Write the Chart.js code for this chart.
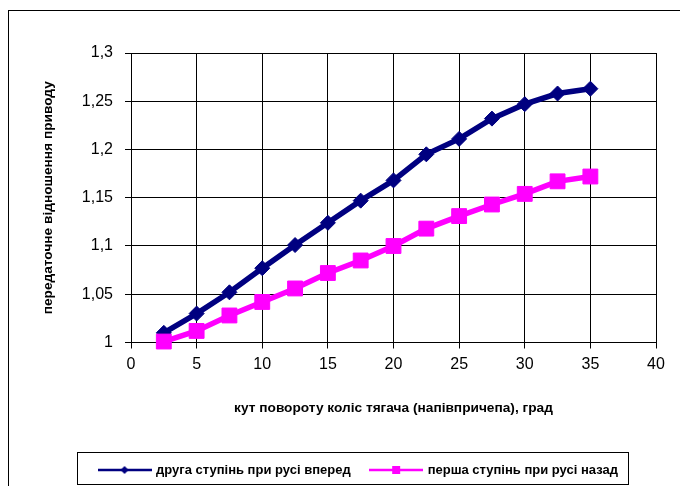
<!DOCTYPE html>
<html>
<head>
<meta charset="utf-8">
<script src="https://cdn.jsdelivr.net/npm/chart.js@4/dist/chart.umd.min.js"></script>
<style>
html,body{margin:0;padding:0;background:#fff;}
#wrap{width:680px;height:486px;}
</style>
</head>
<body>
<div id="wrap"><canvas id="c" width="680" height="486"></canvas></div>
<script>
const angles = [2.5, 5, 7.5, 10, 12.5, 15, 17.5, 20, 22.5, 25, 27.5, 30, 32.5, 35];
const forwardSecond = [1.010, 1.030, 1.052, 1.077, 1.101, 1.124, 1.147, 1.168, 1.195, 1.211, 1.232, 1.247, 1.258, 1.263];
const reverseFirst = [1.001, 1.012, 1.028, 1.042, 1.056, 1.072, 1.085, 1.100, 1.118, 1.131, 1.143, 1.154, 1.167, 1.172];
const seriesNames = ['друга ступінь при русі вперед', 'перша ступінь при русі назад'];
const xTickLabels = ['0', '5', '10', '15', '20', '25', '30', '35', '40'];
const yTickLabels = ['1', '1,05', '1,1', '1,15', '1,2', '1,25', '1,3'];
const xTitle = 'кут повороту коліс тягача (напівпричепа), град';
const yTitle = 'передаточне відношення приводу';

const NAVY = '#000080', MAGENTA = '#FF00FF';
const FONT = '"Liberation Sans", Arial, sans-serif';

function legendIcon(color, shape) {
  const cv = document.createElement('canvas');
  cv.width = 54; cv.height = 14;
  const g = cv.getContext('2d');
  g.strokeStyle = color; g.fillStyle = color;
  g.lineWidth = 2.5;
  g.beginPath(); g.moveTo(0, 7); g.lineTo(54, 7); g.stroke();
  if (shape === 'diamond') {
    g.beginPath(); g.moveTo(27, 3); g.lineTo(31, 7); g.lineTo(27, 11); g.lineTo(23, 7); g.closePath(); g.fill();
  } else {
    g.fillRect(23, 3, 8, 8);
  }
  return cv;
}
const icons = [legendIcon(NAVY, 'diamond'), legendIcon(MAGENTA, 'square')];

const framePlugin = {
  id: 'frame',
  beforeDraw(chart) {
    const ctx = chart.ctx;
    ctx.save(); ctx.fillStyle = '#fff'; ctx.fillRect(0, 0, chart.width, chart.height); ctx.restore();
  },
  afterLayout(chart) {
    const lg = chart.legend;
    if (lg) {
      lg.left = 61.5; lg.right = 656;
      lg.top = 443; lg.bottom = 486.5;
    }
  },
  afterDraw(chart) {
    const ctx = chart.ctx;
    ctx.save();
    ctx.strokeStyle = '#000'; ctx.lineWidth = 1;
    ctx.strokeRect(8.5, 10.5, 720, 520);
    ctx.strokeRect(77.5, 452.5, 551, 32);
    ctx.restore();
  }
};

new Chart(document.getElementById('c'), {
  type: 'line',
  data: {
    datasets: [
      {
        label: seriesNames[0],
        data: angles.map((a, i) => ({x: a, y: forwardSecond[i]})),
        borderColor: NAVY, backgroundColor: NAVY,
        borderWidth: 5.5, tension: 0,
        pointStyle: 'rectRot', pointRadius: 7.5,
        pointBackgroundColor: NAVY, pointBorderColor: NAVY, pointBorderWidth: 1,
        clip: false, order: 2
      },
      {
        label: seriesNames[1],
        data: angles.map((a, i) => ({x: a, y: reverseFirst[i]})),
        borderColor: MAGENTA, backgroundColor: MAGENTA,
        borderWidth: 5.5, tension: 0,
        pointStyle: 'rect', pointRadius: 10.5,
        pointBackgroundColor: MAGENTA, pointBorderColor: MAGENTA, pointBorderWidth: 1,
        clip: false, order: 1
      }
    ]
  },
  options: {
    responsive: false,
    animation: false,
    events: [],
    layout: { padding: { left: 0, top: 53, right: 24, bottom: 0 } },
    plugins: {
      tooltip: { enabled: false },
      legend: {
        display: true,
        position: 'bottom',
        labels: {
          usePointStyle: true,
          pointStyleWidth: 50,
          padding: 20.5,
          color: '#000',
          font: { family: FONT, size: 13, weight: 'bold' },
          generateLabels() {
            return seriesNames.map((n, i) => ({
              text: n, pointStyle: icons[i], fillStyle: 'rgba(0,0,0,0)',
              strokeStyle: 'rgba(0,0,0,0)', lineWidth: 0, fontColor: '#000',
              hidden: false, datasetIndex: i
            }));
          }
        }
      }
    },
    scales: {
      x: {
        type: 'linear', min: 0, max: 40,
        afterFit(s) { s.height = 100; },
        ticks: {
          stepSize: 5, padding: 6, color: '#000',
          font: { family: FONT, size: 16 },
          maxRotation: 0,
          callback: (v, i) => xTickLabels[i]
        },
        grid: { color: '#000', lineWidth: 1, tickLength: 6, drawTicks: true },
        border: { color: '#000', width: 1 },
        title: {
          display: true, text: xTitle, color: '#000',
          font: { family: FONT, size: 13.7, weight: 'bold' },
          padding: { top: 0, bottom: 26.3 }
        }
      },
      y: {
        type: 'linear', min: 1, max: 1.3,
        afterFit(s) { s.width = 131; },
        ticks: {
          stepSize: 0.05, padding: 12, color: '#000',
          font: { family: FONT, size: 16 },
          callback: (v, i) => yTickLabels[i]
        },
        grid: { color: '#000', lineWidth: 1, tickLength: 6, drawTicks: true },
        border: { color: '#000', width: 1 },
        title: {
          display: true, text: yTitle, color: '#000',
          font: { family: FONT, size: 13.7, weight: 'bold' },
          padding: { top: 39.8, bottom: 0 }
        }
      }
    }
  },
  plugins: [framePlugin]
});
</script>
</body>
</html>
